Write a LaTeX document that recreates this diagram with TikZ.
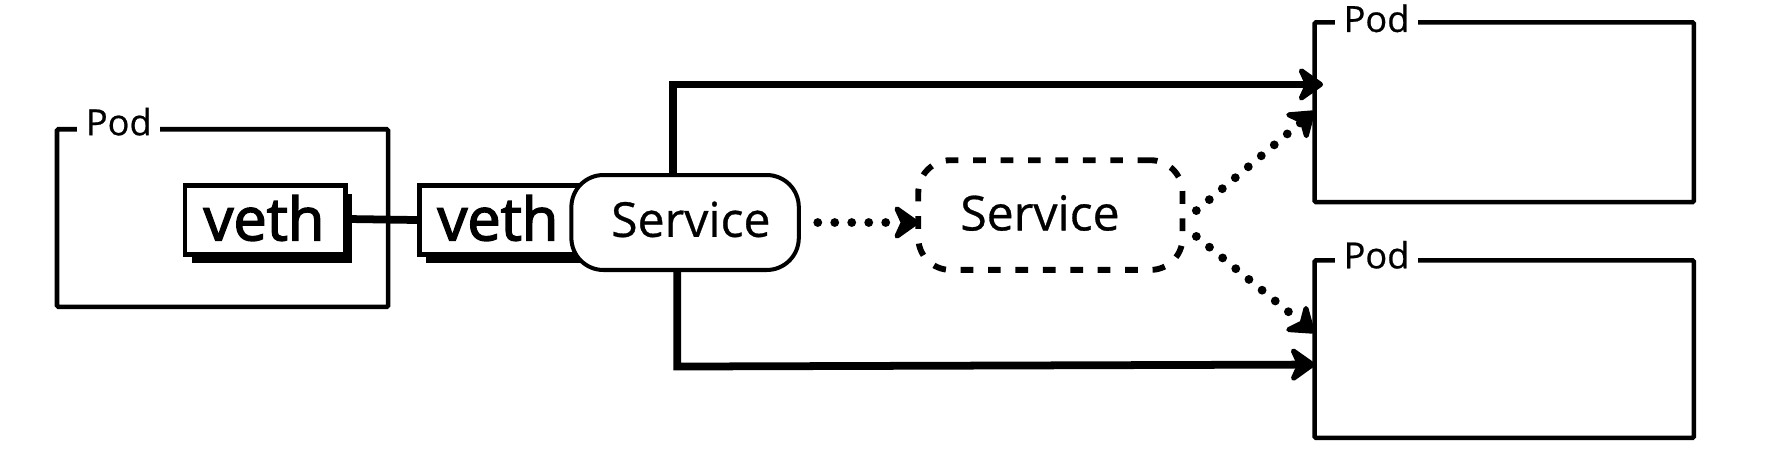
\documentclass[tikz,border=0pt]{standalone}
\usepackage{fontspec}
\setmainfont[FakeBold=0.6]{Open Sans}
\newfontfamily\vethfont[FakeBold=2.5]{Open Sans}
\usetikzlibrary{arrows.meta,shadows}
\tikzset{
  x=0.74pt,y=-0.7425pt,
  podbox/.style={draw=black,line width=3.4pt,fill=white,inner sep=0pt,rounded corners=1pt},
  podtext/.style={fill=white,inner sep=0pt,inner xsep=5pt,minimum width=62pt,minimum height=30pt,font=\fontsize{27}{27}\selectfont},
  vethbox/.style={draw=black,line width=3.6pt,fill=white,inner sep=0pt,minimum height=51.5pt,text depth=3.5pt,font=\vethfont\fontsize{44.5}{45}\selectfont,
    drop shadow={shadow xshift=5pt,shadow yshift=-6pt,fill=black,opacity=1}},
  svcsolid/.style={draw=black,line width=3pt,fill=white,inner sep=0pt,rounded corners=24pt,text depth=5pt,font=\fontsize{36}{36}\selectfont},
  svcdash/.style={draw=black,line width=4.4pt,inner sep=0pt,rounded corners=24pt,dash pattern=on 9.5pt off 11pt,text depth=3.5pt,font=\fontsize{36}{36}\selectfont},
  link/.style={draw=black,line width=5.8pt},
  headtip/.style={-{Stealth[length=22pt,width=31pt,inset=7pt,round]}},
  flow/.style={link,headtip},
  dotflow/.style={draw=black,line width=6.6pt,line cap=round,dash pattern=on 0pt off 12.7pt,headtip},
}
\begin{document}
\begin{tikzpicture}
\useasboundingbox (0,0) rectangle (1802,455);
% pods
\node[podbox,minimum width=247.5pt,minimum height=132.7pt] (podA) at (224.8,219.5) {};
\node[podbox,minimum width=283.4pt,minimum height=134.4pt] (podB) at (1519.4,113) {};
\node[podbox,minimum width=283.4pt,minimum height=132.7pt] (podC) at (1519.4,351.5) {};
\node[podtext] (podAt) at (120,122.5) {Pod};
\node[podtext] (podBt) at (1390.4,18.5) {Pod};
\node[podtext] (podCt) at (1390.4,256.5) {Pod};
% connector anchors
\coordinate (upS) at (680,176);
\coordinate (upT) at (1336.4,85);
\coordinate (loS) at (684,272);
\coordinate (loC) at (684,369);
\coordinate (loT) at (1328.4,367);
\coordinate (dS) at (826,224);
\coordinate (dT) at (928,224);
\coordinate (uS) at (1208.4,212);
\coordinate (uT) at (1327.4,112);
\coordinate (wS) at (1208.4,238);
\coordinate (wT) at (1327.4,335);
% veth
\node[vethbox,minimum width=120pt] (vethA) at (268,221.5) {\rule{0pt}{0pt}veth\rule{2pt}{0pt}};
\node[vethbox,minimum width=123pt] (vethB) at (507,221.5) {veth\rule{6pt}{0pt}};
\draw[link] (vethA.east) ++(2,-1) coordinate (vA) (vA) -- (vethB.west);
% flows
\draw[flow] (upS) |- (upT);
\draw[flow] (loS) -- (loC) -- (loT);
\draw[dotflow] (dS) -- (dT);
\draw[dotflow] (uS) -- (uT);
\draw[dotflow] (wS) -- (wT);
% services
\node[svcsolid,minimum width=170pt,minimum height=71pt] (svcA) at (692,224) {\hspace{8.6pt}Service};
\node[svcdash,minimum width=197.5pt,minimum height=82pt] (svcB) at (1061,216.5) {Service\rule{15.6pt}{0pt}};
\end{tikzpicture}
\end{document}
